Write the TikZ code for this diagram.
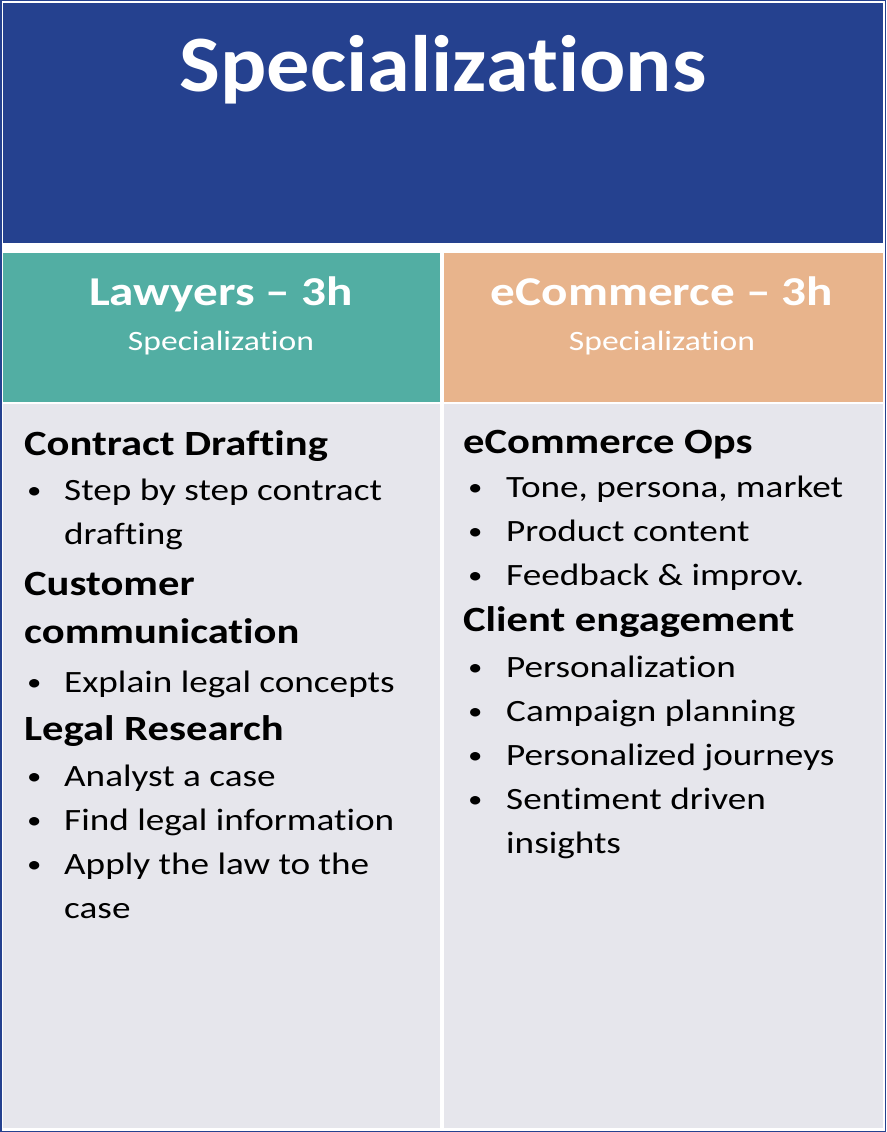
\documentclass[tikz,border=0pt]{standalone}
\usepackage{fontspec}
\setmainfont{Carlito}[FakeStretch=1.2,Ligatures=NoCommon]
\newfontfamily\ttlfont{Carlito}[FakeStretch=1.08,Ligatures=NoCommon]
\definecolor{navy}{HTML}{25418F}
\definecolor{teal}{HTML}{52AEA3}
\definecolor{peach}{HTML}{E8B48C}
\definecolor{body}{HTML}{E6E6EC}
\begin{document}
\begin{tikzpicture}[x=1pt,y=-1pt,
 hd/.style={anchor=base west,inner sep=0,font=\fontsize{35.5}{40}\selectfont\bfseries},
 tx/.style={anchor=base west,inner sep=0,font=\fontsize{31}{36}\selectfont},
 bl/.style={anchor=base west,inner sep=0,font=\fontsize{24}{36}\selectfont}]
\useasboundingbox (0,0) rectangle (886,1132);
\fill[white] (0,0) rectangle (886,1132);
\fill[navy] (3,3) rectangle (883,243);
\fill[teal] (3,253) rectangle (440,402);
\fill[peach] (444,253) rectangle (883,402);
\fill[body] (3,404) rectangle (440,1128);
\fill[body] (444,404) rectangle (883,1128);
\draw[navy,line width=1.5] (0.75,0.75) rectangle (885.25,1131.25);
\node[anchor=base,inner sep=0,white,font=\ttlfont\fontsize{80}{90}\selectfont\bfseries] (title) at (443,92) {Specializations};
\node[anchor=base,inner sep=0,white,font=\fontsize{41}{48}\selectfont\bfseries] (h1) at (221,305) {Lawyers – 3h};
\node[anchor=base,inner sep=0,white,font=\fontsize{28}{36}\selectfont] (s1) at (221,350) {Specialization};
\node[anchor=base,inner sep=0,white,font=\fontsize{41}{48}\selectfont\bfseries] (h2) at (662,305) {eCommerce – 3h};
\node[anchor=base,inner sep=0,white,font=\fontsize{28}{36}\selectfont] (s2) at (662,350) {Specialization};
% left
\node[hd] (a1) at (24,455) {Contract Drafting};
\node[bl] at (27,498) {•}; \node[tx] (a2) at (64,500) {Step by step contract};
\node[tx] (a3) at (64,544) {drafting};
\node[hd] (a4) at (24,595) {Customer};
\node[hd] (a5) at (24,643) {communication};
\node[bl] at (27,690) {•}; \node[tx] (a6) at (64,692) {Explain legal concepts};
\node[hd] (a7) at (24,740) {Legal Research};
\node[bl] at (27,784) {•}; \node[tx] (a8) at (64,786) {Analyst a case};
\node[bl] at (27,828) {•}; \node[tx] (a9) at (64,830) {Find legal information};
\node[bl] at (27,872) {•}; \node[tx] (a10) at (64,874) {Apply the law to the};
\node[tx] (a11) at (64,918) {case};
% right
\node[hd] (b1) at (463,453) {eCommerce Ops};
\node[bl] at (468,495) {•}; \node[tx] (b2) at (506,497) {Tone, persona, market};
\node[bl] at (468,539) {•}; \node[tx] (b3) at (506,541) {Product content};
\node[bl] at (468,583) {•}; \node[tx] (b4) at (506,585) {Feedback \& improv.};
\node[hd] (b5) at (463,631) {Client engagement};
\node[bl] at (468,675) {•}; \node[tx] (b6) at (506,677) {Personalization};
\node[bl] at (468,719) {•}; \node[tx] (b7) at (506,721) {Campaign planning};
\node[bl] at (468,763) {•}; \node[tx] (b8) at (506,765) {Personalized journeys};
\node[bl] at (468,807) {•}; \node[tx] (b9) at (506,809) {Sentiment driven};
\node[tx] (b10) at (506,853) {insights};
\end{tikzpicture}
\end{document}
